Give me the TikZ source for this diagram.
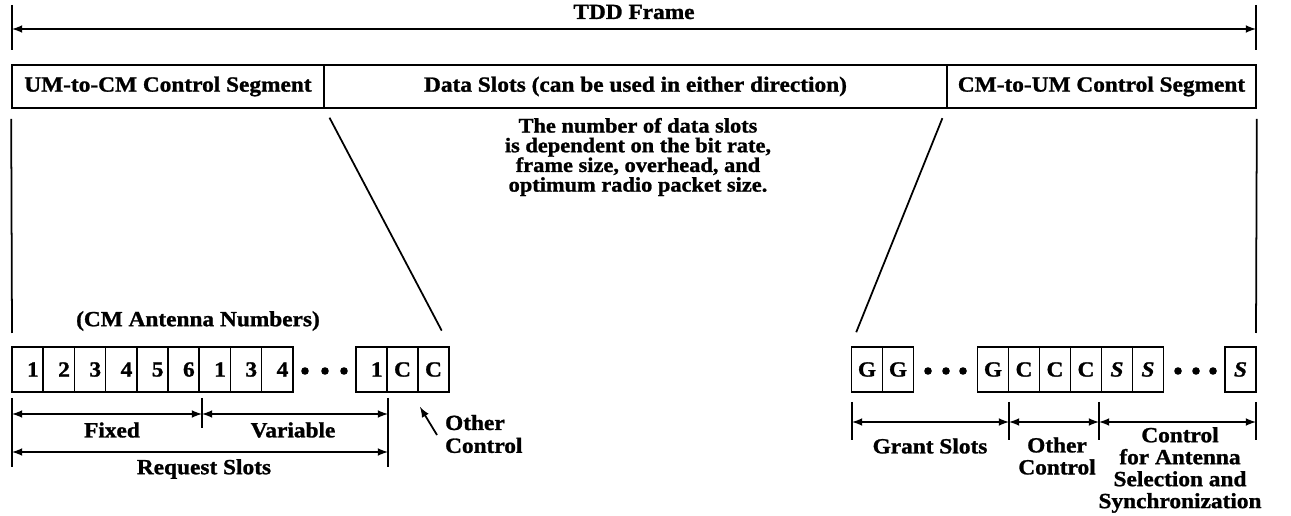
\documentclass[tikz,border=0pt]{standalone}
\usepackage{fontspec}
\setmainfont{Liberation Serif}[FakeStretch=1.08, BoldFeatures={FakeBold=1.2}, BoldItalicFeatures={FakeBold=1.2}]
\usetikzlibrary{positioning}
\tikzset{seg/.style={
    draw, line width=1pt, minimum height=0.86cm, inner sep=0pt}}
\tikzset{slot/.style={
    draw, line width=1pt, minimum width=0.62cm, minimum height=0.9cm, inner sep=0pt}}
\tikzset{dim/.style={
    <->, >=latex, line width=1pt}}
\tikzset{tick/.style={
    line width=1pt}}
\tikzset{lbl/.style={
    font=\bfseries\fontsize{12.3}{13}\selectfont, align=center, inner sep=1pt}}

\begin{document}
\begin{tikzpicture}[x=0.02cm, y=-0.02cm, every node/.style={lbl}]
\useasboundingbox (0,0) rectangle (1291,516);

  % trame TDD
\coordinate (fl) at (12,29);
\coordinate (fr) at (1256,29);
\draw[tick] (12,5) -- (12,50);
\draw[tick] (1256,5) -- (1256,50);
\draw[dim] (fl) -- (fr);
\node (tdd) at (634,12) {TDD Frame};

  % segments
\node[seg, minimum width=6.24cm] (umcm) at (168,86.5) {UM-to-CM Control Segment};
\node[seg, minimum width=12.46cm] (data) at (635.5,86.5) {Data Slots (can be used in either direction)};
\node[seg, minimum width=6.18cm] (cmum) at (1101.5,86.5) {CM-to-UM Control Segment};

\node[font=\bfseries\fontsize{11.8}{11.2}\selectfont] (note) at (638,157)
  {The number of data slots\\ is dependent on the bit rate,\\ frame size, overhead, and\\ optimum radio packet size.};

  % creneaux montants
\node (num) at (198,321) {(CM Antenna Numbers)};
\foreach \lab [count=\i] in {1,2,3,4,5,6,1,3,4}
  \node[slot, minimum width=0.624cm] (l\i) at ({12+31.2*(\i-0.5)},369.5) {\hspace{6pt}\lab};
\foreach \x in {305,325,344}
  \fill (\x,371) circle (3.8);
\node[slot] (lr) at (371.5,369.5) {\hspace{6pt}1};
\node[slot, right=-1pt of lr] (lc1) {C};
\node[slot, right=-1pt of lc1] (lc2) {C};

\draw[tick] (12,398) -- (12,467);
\draw[tick] (202,398) -- (202,428);
\draw[tick] (388,398) -- (388,467);
\draw[dim] (12,414) -- (202,414);
\draw[dim] (202,414) -- (388,414);
\draw[dim] (12,452) -- (388,452);
\node (fixed) at (112,430) {Fixed};
\node (var) at (293,430) {Variable};
\node (req) at (204,469) {Request Slots};

\coordinate (oc) at (437,435);
\draw[->, >=latex, line width=1pt] (oc) -- (420,407);
\node[anchor=west, align=left] (other) at (443,434) {Other\\Control};

  % creneaux descendants
\node[slot] (g1) at (867,369.5) {G};
\node[slot, right=-1pt of g1] (g2) {G};
\foreach \x in {928,946,963}
  \fill (\x,371) circle (3.8);
\node[slot] (g3) at (993,369.5) {G};
\node[slot, right=-1pt of g3] (c1) {C};
\node[slot, right=-1pt of c1] (c2) {C};
\node[slot, right=-1pt of c2] (c3) {C};
\node[slot, right=-1pt of c3] (s1) {\textit{S}};
\node[slot, right=-1pt of s1] (s2) {\textit{S}};
\foreach \x in {1178,1196,1213}
  \fill (\x,371) circle (3.8);
\node[slot] (s3) at (1240.5,369.5) {\textit{S}};

\foreach \x in {852,1009,1099,1256}
  \draw[tick] (\x,402) -- (\x,440);
\draw[dim] (852,422) -- (1009,422);
\draw[dim] (1009,422) -- (1099,422);
\draw[dim] (1099,422) -- (1256,422);
\node (grant) at (930,446) {Grant Slots};
\node[font=\bfseries\fontsize{12.3}{12.5}\selectfont] (other2) at (1057,456) {Other\\Control};
\node[font=\bfseries\fontsize{12.3}{12.5}\selectfont] (sync) at (1180,470)
  {Control\\for Antenna\\Selection and\\Synchronization};

  % liaisons
\draw[tick, shorten <=0.2cm] (umcm.south west) -- (12,333);
\draw[tick, shorten <=0.2cm] (cmum.south east) -- (1256,333);
\draw[tick, shorten <=0.2cm, shorten >=0.35cm] (umcm.south east) -- (lc2.north east);
\draw[tick, shorten <=0.2cm, shorten >=0.3cm] (cmum.south west) -- (g1.north west);
\end{tikzpicture}
\end{document}
